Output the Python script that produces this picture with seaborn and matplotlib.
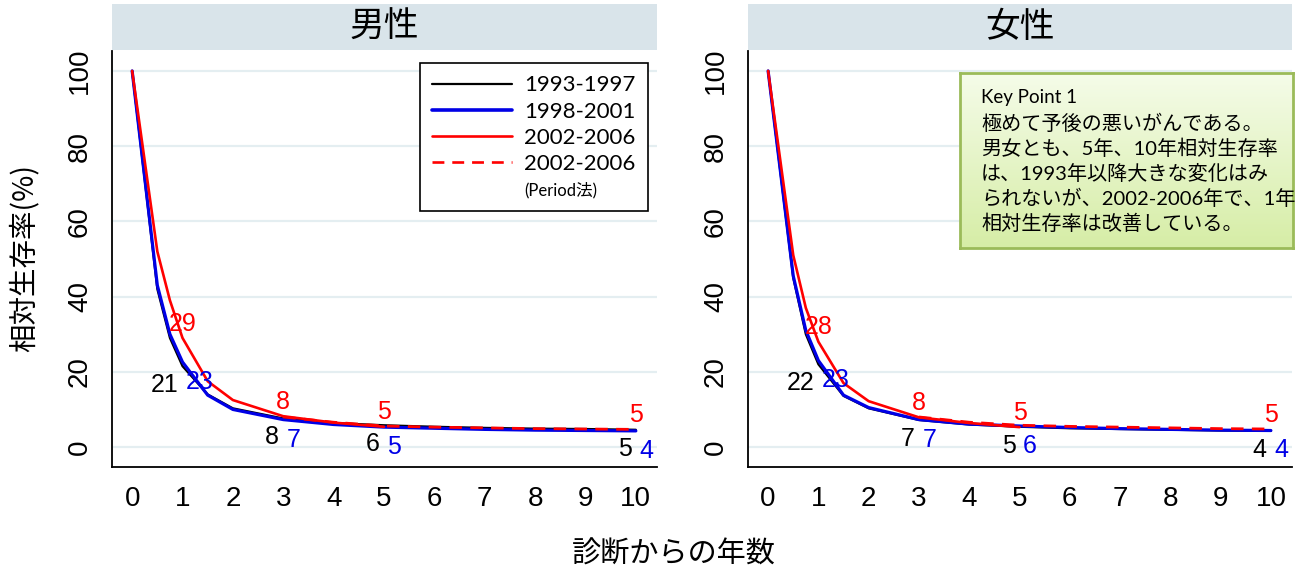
import numpy as np
import pandas as pd
import matplotlib
matplotlib.use("Agg")
import matplotlib.pyplot as plt
import seaborn as sns
from matplotlib.patches import Rectangle
from matplotlib.lines import Line2D
from matplotlib.font_manager import FontProperties
from matplotlib.colors import LinearSegmentedColormap

# ---------------- data ----------------
YEARS = [0, 0.5, 0.75, 1, 1.5, 2, 3, 4, 5, 6, 7, 8, 9, 10]
YEARS_RED = [0, 0.5, 0.75, 1, 1.5, 2, 3, 4, 5]
YEARS_PERIOD = [3, 4, 5, 6, 7, 8, 9, 10]

MALE_1993 = [100, 42, 29, 21.5, 14.0, 10.3, 7.6, 6.4, 5.8, 5.4, 5.1, 4.9, 4.8, 4.6]
MALE_1998 = [100, 43, 30, 22.6, 13.8, 10.0, 7.3, 6.0, 5.3, 5.0, 4.7, 4.5, 4.4, 4.3]
MALE_2002 = [100, 52, 39, 29.0, 17.5, 12.5, 8.2, 6.5, 5.4]
MALE_2002P = [8.0, 6.6, 5.6, 5.3, 5.1, 4.9, 4.8, 4.7]

FEMALE_1993 = [100, 45, 30, 22.0, 13.6, 10.3, 7.2, 6.0, 5.4, 5.0, 4.8, 4.6, 4.4, 4.3]
FEMALE_1998 = [100, 45.5, 31, 23.0, 13.8, 10.5, 7.3, 6.1, 5.6, 5.2, 4.9, 4.7, 4.5, 4.4]
FEMALE_2002 = [100, 51, 37, 28.0, 17.0, 12.2, 7.9, 6.4, 5.3]
FEMALE_2002P = [8.0, 6.6, 5.8, 5.5, 5.3, 5.1, 4.9, 4.8]

LABEL_YEARS = [1, 3, 5, 10]
MALE_LBL_1993 = ["21", "8", "6", "5"]
MALE_LBL_1998 = ["23", "7", "5", "4"]
MALE_LBL_2002 = ["29", "8", "5", "5"]
FEMALE_LBL_1993 = ["22", "7", "5", "4"]
FEMALE_LBL_1998 = ["23", "7", "6", "4"]
FEMALE_LBL_2002 = ["28", "8", "5", "5"]

PANEL_TITLES = ["男性", "女性"]
LEGEND_LABELS = ["1993-1997", "1998-2001", "2002-2006", "2002-2006", "(Period法)"]
X_TICKS = list(range(0, 11))
Y_TICKS = [0, 20, 40, 60, 80, 100]
X_LABEL = "診断からの年数"
Y_LABEL = "相対生存率(%)"
KEY_POINT_LINES = [
    "Key Point 1",
    "極めて予後の悪いがんである。",
    "男女とも、5年、10年相対生存率",
    "は、1993年以降大きな変化はみ",
    "られないが、2002-2006年で、1年",
    "相対生存率は改善している。",
]

# ---------------- style ----------------
sns.set_style("white")
plt.rcParams["font.family"] = ["Liberation Sans", "Noto Sans CJK JP", "DejaVu Sans"]
plt.rcParams["text.color"] = "black"
plt.rcParams["xtick.color"] = "black"
plt.rcParams["ytick.color"] = "black"
plt.rcParams["xtick.labelcolor"] = "black"
plt.rcParams["ytick.labelcolor"] = "black"
CJK = ["Noto Sans CJK JP", "DejaVu Sans"]
LAT_CJK = ["Lato", "Noto Sans CJK JP", "DejaVu Sans"]

BLACK = "#000000"
BLUE = "#0000e6"
RED = "#ff0000"
GRID = "#e4eef1"
STRIP = "#d9e4ea"

fig = plt.figure(figsize=(12.98, 5.76), dpi=100)
W, H = 1298, 576
ax_top, ax_bot = 51, 467
axes = [
    fig.add_axes([112 / W, 1 - ax_bot / H, 545 / W, (ax_bot - ax_top) / H]),
    fig.add_axes([748 / W, 1 - ax_bot / H, 544 / W, (ax_bot - ax_top) / H]),
]

panels = [
    (MALE_1993, MALE_1998, MALE_2002, MALE_2002P, MALE_LBL_1993, MALE_LBL_1998, MALE_LBL_2002),
    (FEMALE_1993, FEMALE_1998, FEMALE_2002, FEMALE_2002P, FEMALE_LBL_1993, FEMALE_LBL_1998, FEMALE_LBL_2002),
]

for i, ax in enumerate(axes):
    s93, s98, s02, s02p, l93, l98, l02 = panels[i]
    for y in Y_TICKS:
        ax.axhline(y, color=GRID, lw=1.6, zorder=0)
    sns.lineplot(x=YEARS, y=s93, ax=ax, color=BLACK, lw=1.6, zorder=3)
    sns.lineplot(x=YEARS, y=s98, ax=ax, color=BLUE, lw=2.3, zorder=3)
    sns.lineplot(x=YEARS_RED, y=s02, ax=ax, color=RED, lw=1.9, zorder=4)
    sns.lineplot(x=YEARS_PERIOD, y=s02p, ax=ax, color=RED, lw=2.0, zorder=5)
    ax.get_lines()[-1].set_dashes((4.5, 3))

    # value labels
    for j, t in enumerate(LABEL_YEARS):
        k = YEARS.index(t)
        v93, v98 = s93[k], s98[k]
        vred = s02[YEARS_RED.index(t)] if t in YEARS_RED else s02p[YEARS_PERIOD.index(t)]
        ax.text(t, vred + 3.8, l02[j], color=RED, fontsize=18, ha="center", va="center", zorder=6)
        ax.text(t - 0.08, v93 - 5.0, l93[j], color=BLACK, fontsize=18, ha="right", va="center", zorder=6)
        ax.text(t + 0.07, v98 - 5.3, l98[j], color=BLUE, fontsize=18, ha="left", va="center", zorder=6)

    ax.set_xlim(-0.4, 10.42)
    ax.set_ylim(-5.3, 105.3)
    ax.set_xticks(X_TICKS)
    ax.set_yticks(Y_TICKS)
    ax.set_xlabel("")
    ax.set_ylabel("")
    for sp in ["top", "right"]:
        ax.spines[sp].set_visible(False)
    for sp in ["left", "bottom"]:
        ax.spines[sp].set_color("black")
        ax.spines[sp].set_linewidth(1.3)
    ax.tick_params(axis="x", length=8.6, width=1.3, labelsize=20, pad=5, direction="out")
    ax.tick_params(axis="y", length=8.6, width=1.3, labelsize=20, pad=5, direction="out",
                   labelrotation=90)
    for lbl in ax.get_yticklabels():
        lbl.set_va("center")

    # header strip
    hh = ax_bot - ax_top
    ax.add_patch(Rectangle((0, 1 + 1 / hh), 1, 46 / hh, transform=ax.transAxes,
                           facecolor=STRIP, edgecolor="none", clip_on=False, zorder=1))
    ax.text(0.5, 1 + 24 / hh, PANEL_TITLES[i], transform=ax.transAxes, ha="center",
            va="center", fontsize=25, family=CJK)

# legend in left panel
handles = [
    Line2D([], [], color=BLACK, lw=1.6),
    Line2D([], [], color=BLUE, lw=2.6),
    Line2D([], [], color=RED, lw=1.9),
    Line2D([], [], color=RED, lw=1.9, dashes=(4.5, 3)),
    Line2D([], [], color="none"),
]
leg = axes[0].legend(handles, LEGEND_LABELS, loc="upper left", bbox_to_anchor=(0.565, 0.971),
                     prop=FontProperties(family=LAT_CJK, size=16), frameon=True, fancybox=False,
                     framealpha=1, edgecolor="black", handlelength=3.6, handletextpad=0.55,
                     labelspacing=0.28, borderpad=0.55, borderaxespad=0)
leg.get_frame().set_linewidth(1.2)
leg.get_texts()[4].set_fontsize(12)

# Key point box
kp = fig.add_axes([960 / W, 1 - 248 / H, 333 / W, 175 / H])
grad = np.linspace(0, 1, 256).reshape(-1, 1)
cmap = LinearSegmentedColormap.from_list("kp", ["#f5fce9", "#d6eda6"])
kp.imshow(grad, aspect="auto", cmap=cmap, extent=[0, 1, 0, 1], origin="upper")
kp.set_xticks([])
kp.set_yticks([])
for sp in kp.spines.values():
    sp.set_color("#9bbb59")
    sp.set_linewidth(2)
for n, line in enumerate(KEY_POINT_LINES):
    ypix = 98 + 25 * n
    kp.text(21 / 333, (248 - ypix) / 175, line, transform=kp.transAxes, ha="left", va="center",
            fontsize=14.5 if n > 0 else 13.5, family=LAT_CJK, color="black")

# axis labels
fig.text(674 / W, 1 - 555 / H, X_LABEL, ha="center", va="center", fontsize=21, family=CJK)
fig.text(25 / W, 1 - 258 / H, Y_LABEL, ha="center", va="center", rotation=90, fontsize=20.5,
         family=CJK)

fig.savefig("out.png", dpi=100)
